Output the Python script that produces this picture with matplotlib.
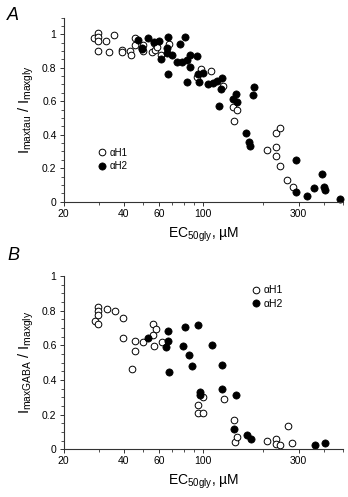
import matplotlib
matplotlib.use("Agg")
import matplotlib.pyplot as plt
from matplotlib.ticker import FixedLocator, FuncFormatter, MultipleLocator, NullFormatter
import numpy as np

plt.rcParams['font.family'] = ['Liberation Sans', 'DejaVu Sans']
plt.rcParams['mathtext.fontset'] = 'custom'
plt.rcParams['mathtext.rm'] = 'Liberation Sans'
plt.rcParams['mathtext.it'] = 'Liberation Sans:italic'

# ---- Panel A data: Imaxtau / Imaxgly vs EC50gly (uM)
a_h1_ec = [28.5, 29.7, 29.7, 29.7, 29.7, 32.7, 33.6, 35.9, 39.4, 39.4, 43.0, 43.7,
           45.6, 45.6, 49.7, 49.7, 55.4, 56.5, 57.6, 58.6, 61.5, 67.4, 97.7, 93.1,
           108.8, 125.2, 141.6, 147.0, 143.0, 209.0, 231.0, 242.0, 231.0, 231.0,
           242.0, 263.0, 281.0]
a_h1_v = [0.976, 1.006, 0.986, 0.962, 0.902, 0.962, 0.896, 0.998, 0.905, 0.893, 0.902, 0.874,
          0.976, 0.936, 0.936, 0.900, 0.896, 0.946, 0.906, 0.926, 0.876, 0.942, 0.790, 0.743,
          0.781, 0.691, 0.568, 0.548, 0.484, 0.311, 0.412, 0.442, 0.325, 0.273,
          0.213, 0.129, 0.086]
a_h2_ec = [46.9, 49.4, 49.6, 52.7, 56.5, 59.8, 66.3, 65.5, 65.8, 61.5, 66.8, 70.1,
           76.6, 80.6, 73.7, 78.1, 83.3, 86.0, 86.0, 83.3, 93.1, 94.6, 95.0, 100.2,
           106.1, 112.0, 117.7, 124.7, 123.2, 119.5, 141.6, 145.5, 148.1, 178.3,
           179.7, 164.2, 168.5, 171.0, 291.9, 289.5, 330.8, 356.0, 390.6, 402.0,
           405.0, 483.6]
a_h2_v = [0.964, 0.920, 0.910, 0.976, 0.956, 0.960, 0.982, 0.916, 0.886, 0.853, 0.763, 0.875,
          0.942, 0.986, 0.835, 0.835, 0.847, 0.875, 0.807, 0.717, 0.871, 0.763, 0.713, 0.771,
          0.703, 0.711, 0.719, 0.737, 0.671, 0.572, 0.614, 0.643, 0.598, 0.637,
          0.683, 0.412, 0.359, 0.335, 0.249, 0.060, 0.034, 0.080, 0.163, 0.090,
          0.070, 0.016]

# ---- Panel B data: ImaxGABA / Imaxgly vs EC50gly (uM)
b_h1_ec = [28.6, 29.7, 29.7, 29.7, 29.7, 32.9, 36.0, 39.9, 39.9, 43.8, 45.6, 45.6,
           49.7, 56.0, 56.0, 58.0, 56.5, 62.2, 94.1, 94.1, 100.2, 99.5, 127.0, 142.3,
           143.9, 147.2, 209.0, 232.0, 232.0, 242.0, 266.7, 278.0]
b_h1_v = [0.738, 0.819, 0.800, 0.777, 0.725, 0.808, 0.796, 0.758, 0.644, 0.465, 0.625, 0.567,
          0.621, 0.725, 0.658, 0.694, 0.596, 0.621, 0.254, 0.212, 0.212, 0.304, 0.292, 0.167,
          0.044, 0.071, 0.046, 0.058, 0.033, 0.025, 0.137, 0.037]
b_h2_ec = [53.2, 66.3, 66.3, 65.0, 67.6, 79.3, 80.6, 84.4, 88.0, 94.5, 95.9, 95.9,
           110.9, 124.0, 124.0, 146.4, 142.3, 165.5, 173.2, 361.7, 405.0]
b_h2_v = [0.644, 0.685, 0.625, 0.588, 0.444, 0.596, 0.704, 0.546, 0.479, 0.715, 0.329, 0.313,
          0.602, 0.485, 0.346, 0.315, 0.117, 0.083, 0.058, 0.025, 0.035]

x_major = [20, 40, 60, 100, 300]
x_minor = [30, 50, 70, 80, 90, 200, 400, 500]

W, H = 348, 497
fig = plt.figure(figsize=(W / 100, H / 100), dpi=100)

def frac(x0, ytop, x1, ybot):
    return [x0 / W, 1 - ybot / H, (x1 - x0) / W, (ybot - ytop) / H]

axA = fig.add_axes(frac(63.5, 17.5, 343, 201.7))
axB = fig.add_axes(frac(63.5, 276.0, 343, 449.3))

def style(ax, ymax, ylabel):
    ax.set_xscale('log')
    ax.set_xlim(20, 500)
    ax.set_ylim(0, ymax)
    ax.xaxis.set_major_locator(FixedLocator(x_major))
    ax.xaxis.set_minor_locator(FixedLocator(x_minor))
    ax.xaxis.set_major_formatter(FuncFormatter(lambda v, p: '%g' % v))
    ax.xaxis.set_minor_formatter(NullFormatter())
    ax.yaxis.set_major_locator(FixedLocator([0, 0.2, 0.4, 0.6, 0.8, 1.0]))
    ax.yaxis.set_minor_locator(MultipleLocator(0.05))
    ax.yaxis.set_major_formatter(FuncFormatter(lambda v, p: '%g' % round(v, 2)))
    for s in ['top', 'right']:
        ax.spines[s].set_visible(False)
    for s in ['left', 'bottom']:
        ax.spines[s].set_linewidth(0.8)
        ax.spines[s].set_color('#333333')
    ax.tick_params(which='major', length=3, width=0.7, labelsize=7.5, pad=2, color='#333333')
    ax.tick_params(which='minor', length=2, width=0.6, color='#333333')
    ax.set_ylabel(ylabel, fontsize=10.5, labelpad=4)
    ax.set_xlabel(r'EC$_{\rm 50gly}$, µM', fontsize=10, labelpad=5)

def scatter(ax, ec1, v1, ec2, v2):
    h1, = ax.plot(ec1, v1, 'o', ms=4.8, mfc='white', mec='black', mew=0.7, ls='none',
                  label='αH1', clip_on=False)
    h2, = ax.plot(ec2, v2, 'o', ms=5.2, mfc='black', mec='black', mew=0.5, ls='none',
                  label='αH2', clip_on=False)
    return h1, h2

style(axA, 1.1, r'I$_{\rm maxtau}$ / I$_{\rm maxgly}$')
scatter(axA, a_h1_ec, a_h1_v, a_h2_ec, a_h2_v)
axA.legend(loc='center left', bbox_to_anchor=(0.125, 0.23), frameon=False, fontsize=7,
           handlelength=0.8, handletextpad=0.3, labelspacing=0.35, borderpad=0, borderaxespad=0)

style(axB, 1.0, r'I$_{\rm maxGABA}$ / I$_{\rm maxgly}$')
scatter(axB, b_h1_ec, b_h1_v, b_h2_ec, b_h2_v)
axB.legend(loc='center left', bbox_to_anchor=(0.675, 0.878), frameon=False, fontsize=7.5,
           handlelength=0.8, handletextpad=0.3, labelspacing=0.35, borderpad=0, borderaxespad=0)

fig.text(7 / W, 1 - 15 / H, 'A', fontsize=13, style='italic', va='center', ha='left')
fig.text(7 / W, 1 - 255 / H, 'B', fontsize=13, style='italic', va='center', ha='left')

fig.savefig('out.png', dpi=100)
